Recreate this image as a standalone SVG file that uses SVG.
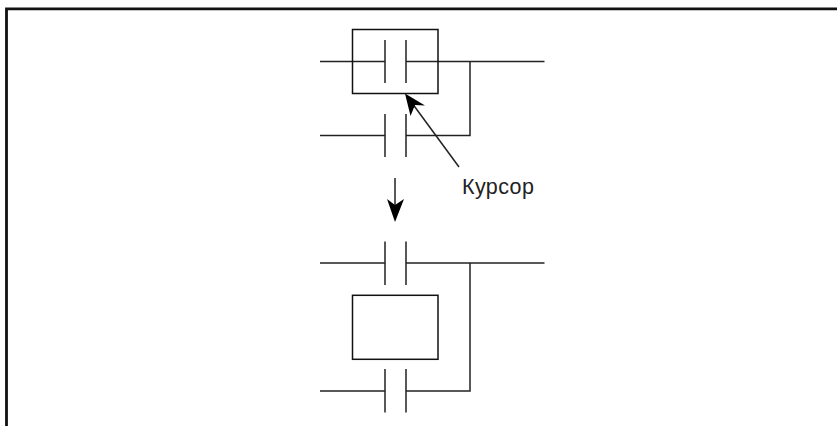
<svg xmlns="http://www.w3.org/2000/svg" width="837" height="426" viewBox="0 0 837 426">
<style>
.l{fill:none;stroke:#222;stroke-width:1.5}
.b{fill:none;stroke:#111;stroke-width:1.5}
.f{fill:none;stroke:#111;stroke-width:2.8}
.a{fill:#000}
text{font-family:"Liberation Sans",Arial,sans-serif;font-size:21.5px;letter-spacing:.4px;fill:#222}
</style>
<rect width="837" height="426" fill="#fff"/>
<path id="frame" class="f" d="M6.500 426V8.800H837"/>
<g id="connectors">
<path class="l" d="M320 61.500H385M406 61.500H544.500M470 61.500V135.500H406M320 135.500H385"/>
<path class="l" d="M385 40V83M406 40V83M385 114V157M406 114V157"/>
<path class="l" d="M320 263H385M406 263H544.500M470 263V391H406M320 391H385"/>
<path class="l" d="M385 241.500V285M406 241.500V285M385 369V412.500M406 369V412.500"/>
<path class="l" d="M459 167L412 103"/>
<path class="a" d="M405 93.500L425 105.500L415 105L410.500 116Z"/>
<path class="l" d="M395 178V205"/>
<path class="a" d="M395 222L387 199L395 205L404 199Z"/>
</g>
<g id="node-cursor-top"><rect class="b" x="352.500" y="29.500" width="85.500" height="64"/></g>
<g id="node-cursor-bottom"><rect class="b" x="352.500" y="295.300" width="85.500" height="64"/></g>
<g id="label"><text x="462" y="193.800">Курсор</text></g>
</svg>
